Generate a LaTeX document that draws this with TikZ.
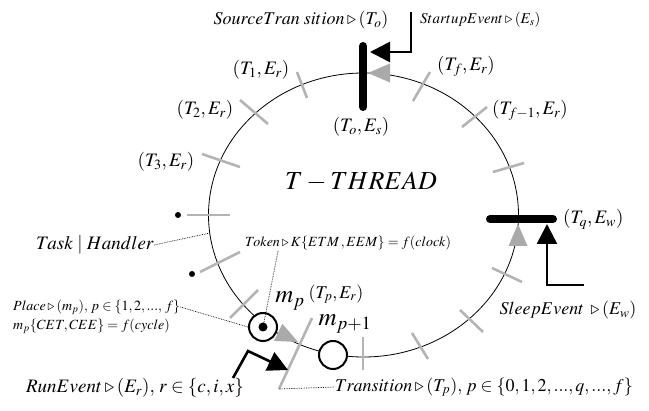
\documentclass[tikz,border=0pt]{standalone}
\usepackage{mathptmx}
\usetikzlibrary{calc,arrows.meta}
\definecolor{tgray}{RGB}{180,180,180}
\definecolor{agray}{RGB}{170,170,170}
\newcommand\gtip[2]{\fill[agray] (#1) -- ($(#1)+(#2+180:22)+(#2+90:9.5)$) -- ($(#1)+(#2+180:22)+(#2-90:9.5)$) -- cycle;}
\begin{document}
\begin{tikzpicture}[x=1pt,y=-1pt,
  lbl/.style={inner sep=0pt, font=\fontsize{18}{20}\selectfont},
  pair/.style={inner sep=0pt, font=\fontsize{19}{21}\selectfont},
  sml/.style={inner sep=0pt, font=\fontsize{14}{16}\selectfont},
  big/.style={inner sep=0pt, font=\fontsize{25}{27}\selectfont},
  tickline/.style={draw=tgray, line width=2.6pt},
  leader/.style={densely dotted, line width=0.7pt},
  blk/.style={line width=2.6pt, -{Triangle[length=20pt,width=20pt]}},
  barline/.style={line width=8pt, line cap=round},
  place/.style={circle, draw, line width=2pt, fill=white, minimum size=28pt, inner sep=0pt}]
\useasboundingbox (0,0) rectangle (649,411);

% thread ellipse
\draw[line width=0.8pt] (363.5,215) ellipse [x radius=155, y radius=142];

% ticks (transitions)
\draw[tickline] (297,72) -- (307,98);
\draw[tickline] (240,100) -- (268,124);
\draw[tickline] (202,154) -- (240,167);
\draw[tickline] (187,215) -- (230,215);
\draw[tickline] (200,272) -- (240,252);
\draw[tickline] (230,318) -- (258,290);
\draw[tickline] (279,389) -- (312,318);
\draw[tickline] (363,337) -- (363,370);
\draw[tickline] (412,333) -- (428,359);
\draw[tickline] (460,310) -- (483,332);
\draw[tickline] (492,268) -- (522,282);
\draw[tickline] (493,172) -- (524,163);
\draw[tickline] (462,127) -- (487,107);
\draw[tickline] (413,101) -- (430,72);

% dots
\fill (178,215) circle (3);
\fill (192,274) circle (3);

% gray flow arrowheads
\gtip{368,73}{180}
\gtip{518,224}{-90}
\gtip{298,342}{26}

% bars
\coordinate (to1) at (363,46);
\coordinate (to2) at (363,107);
\draw[barline] (to1) -- (to2);
\coordinate (tq1) at (490,219);
\coordinate (tq2) at (553,219);
\draw[barline] (tq1) -- (tq2);

% event arrows
\coordinate (sA) at (411,12);
\coordinate (sB) at (370,52);
\draw[blk] (sA) |- (sB);
\coordinate (wA) at (584,285);
\coordinate (wB) at (547,224);
\draw[blk] (wA) -| (wB);
\coordinate (rA) at (233,378);
\coordinate (rB) at (248,351);
\coordinate (rC) at (288,370);
\draw[blk] (rA) -- (rB) -- (rC);

% places
\node[place] (mp) at (263,327) {};
\fill (mp.center) circle (4.5);
\node[place] (mq) at (333,355) {};

% labels
\node[lbl] (src) at (301,20) {$SourceTran\;sition \triangleright (T_o)$};
\node[lbl, font=\fontsize{15}{17}\selectfont, anchor=west] (stu) at (420,20) {$StartupEvent \triangleright (E_s)$};
\node[pair] (p1) at (261,70) {$(T_1,E_r)$};
\node[pair] (p2) at (205,110) {$(T_2,E_r)$};
\node[pair] (p3) at (166,162) {$(T_3,E_r)$};
\node[pair] (po) at (361,127) {$(T_o,E_s)$};
\node[pair] (pf) at (466,66) {$(T_f,E_r)$};
\node[pair] (pf1) at (530,110) {$(T_{f-1},E_r)$};
\node[inner sep=0pt, font=\fontsize{26}{28}\selectfont] (thr) at (361,182) {$T-THREAD$};
\node[pair, anchor=west] (pq) at (563,219) {$(T_q,E_w)$};
\node[pair] (task) at (95,245) {$Task \mid Handler$};
\node[sml, anchor=west] (tok) at (245,243) {$Token \triangleright K\{ETM\,, EEM\} = f(clock)$};
\node[sml, anchor=west] (plc) at (13,307) {$Place \triangleright (m_p),\, p \in \{1,2,...,\, f\}$};
\node[sml, anchor=west] (cyc) at (13,326) {$m_p\{CET, CEE\} = f(cycle)$};
\node[big] (lmp) at (290,301) {$m_p$};
\node[lbl] (ptp) at (336,294) {$(T_p,E_r)$};
\node[big] (lmq) at (345,324) {$m_{p+1}$};
\node[lbl] (slp) at (568,310) {$SleepEvent\; \triangleright (E_w)$};
\node[lbl, font=\fontsize{19}{21}\selectfont] (run) at (135,388) {$RunEvent \triangleright (E_r),\, r \in \{c,i,x\}$};
\node[lbl] (trn) at (484,387) {$Transition \triangleright (T_p),\, p \in \{0,1,2,...,q,...,f\}$};

% leaders
\draw[leader] (task.east) -- (210,233);
\draw[leader] (278,251) -- (mp.center);
\draw[leader] (plc.east) -- (mp.west);
\draw[leader] (279,389) -- (trn.west);
\end{tikzpicture}
\end{document}
